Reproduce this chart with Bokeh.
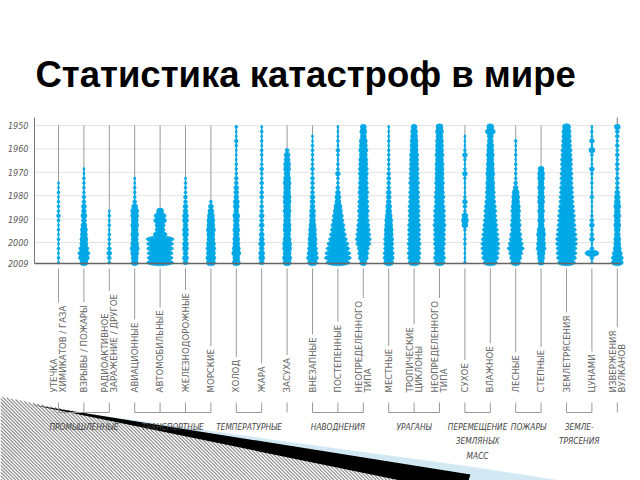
import numpy as np
from bokeh.plotting import figure
from bokeh.models import Range1d, Label
from bokeh.embed import file_html
from bokeh.resources import INLINE

# ---------------- data ----------------
title_text = "Статистика катастроф в мире"
years = list(range(1950, 2009, 2))          # sampled years (1950 ... 2008)
year_ticks = [1950, 1960, 1970, 1980, 1990, 2000, 2009]
grid_years = [1950, 1960, 1970, 1980, 1990, 2000]

cat_labels = [
    "УТЕЧКА\nХИМИКАТОВ / ГАЗА",
    "ВЗРЫВЫ / ПОЖАРЫ",
    "РАДИОАКТИВНОЕ\nЗАРАЖЕНИЕ / ДРУГОЕ",
    "АВИАЦИОННЫЕ",
    "АВТОМОБИЛЬНЫЕ",
    "ЖЕЛЕЗНОДОРОЖНЫЕ",
    "МОРСКИЕ",
    "ХОЛОД",
    "ЖАРА",
    "ЗАСУХА",
    "ВНЕЗАПНЫЕ",
    "ПОСТЕПЕННЫЕ",
    "НЕОПРЕДЕЛЕННОГО\nТИПА",
    "МЕСТНЫЕ",
    "ТРОПИЧЕСКИЕ\nЦИКЛОНЫ",
    "НЕОПРЕДЕЛЕННОГО\nТИПА",
    "СУХОЕ",
    "ВЛАЖНОЕ",
    "ЛЕСНЫЕ",
    "СТЕПНЫЕ",
    "ЗЕМЛЕТРЯСЕНИЯ",
    "ЦУНАМИ",
    "ИЗВЕРЖЕНИЯ\nВУЛКАНОВ",
]

group_names = ["ПРОМЫШЛЕННЫЕ", "ТРАНСПОРТНЫЕ", "ТЕМПЕРАТУРНЫЕ", "", "НАВОДНЕНИЯ",
               "УРАГАНЫ", "ПЕРЕМЕЩЕНИЕ\nЗЕМЛЯНЫХ\nМАСС", "ПОЖАРЫ", "ЗЕМЛЕ-\nТРЯСЕНИЯ", ""]
group_first = [0, 3, 7, 9, 10, 13, 16, 18, 20, 22]
group_last = [2, 6, 8, 9, 12, 15, 17, 19, 21, 22]

# intensity per sampled year (1950, 1952, ..., 2008)
leak = [0]*12 + [2, 2, 3, 2, 3, 3, 3, 4, 3, 2, 3, 2, 3, 2, 3, 2, 3, 2]
explosions = [0]*9 + [2, 2, 3, 3, 3, 3, 4, 4, 5, 5, 6, 5, 6, 7, 7, 8, 8, 10, 12, 11, 8]
radioactive = [0]*18 + [2, 3, 2, 3, 2, 3, 3, 3, 4, 5, 4, 3]
aviation = [0]*11 + [2, 2, 3, 3, 3, 4, 6, 8, 8, 7, 8, 7, 8, 7, 8, 9, 8, 7, 7]
road = [0]*18 + [7, 12, 13, 10, 10, 14, 28, 27, 27, 26, 26, 27]
rail = [0]*11 + [2, 3, 3, 3, 4, 4, 5, 5, 6, 6, 5, 6, 6, 5, 6, 6, 5, 6, 5]
marine = [0]*16 + [3, 5, 6, 7, 8, 8, 9, 8, 8, 9, 10, 9, 10, 9]
cold = [3, 2, 2, 4, 3, 2, 2, 2, 3, 3, 3, 4, 4, 5, 5, 5, 6, 6, 5, 7, 6, 6, 7, 6, 7, 7, 8, 9, 7, 8]
heat = [2, 3, 2, 3, 2, 3, 3, 2, 3, 4, 3, 3, 4, 3, 4, 4, 3, 4, 4, 5, 4, 5, 4, 5, 5, 6, 5, 6, 6, 5]
drought = [0]*5 + [4, 6, 6, 7, 7, 6, 7, 8, 7, 7, 8, 8, 7, 8, 7, 7, 8, 8, 7, 8, 9, 9, 8, 9, 8]
flash_flood = [0, 0, 2, 2, 3, 3, 3, 3, 3, 4, 3, 4, 4, 4, 4, 5, 5, 5, 6, 6, 6, 7, 8, 8, 9, 9, 10, 11, 12, 10]
slow_flood = [2, 2, 2, 3, 2, 4, 3, 2, 3, 3, 5, 3, 3, 4, 5, 6, 6, 8, 9, 11, 12, 14, 15, 17, 19, 22, 24, 26, 27, 24]
other_flood = [6, 7, 6, 8, 8, 9, 8, 9, 9, 10, 10, 9, 10, 10, 11, 10, 11, 11, 12, 11, 12, 13, 14, 15, 16, 15, 12, 11, 10, 7]
local_storm = [2, 2, 2, 3, 2, 3, 3, 3, 3, 3, 4, 4, 4, 4, 5, 5, 5, 6, 6, 7, 8, 8, 9, 9, 10, 10, 10, 11, 11, 10]
cyclones = [6, 7, 7, 8, 8, 8, 9, 9, 9, 10, 10, 10, 11, 10, 11, 11, 11, 12, 12, 12, 12, 13, 13, 13, 13, 14, 13, 14, 13, 12]
other_storm = [7, 8, 7, 8, 8, 8, 9, 8, 9, 9, 9, 9, 10, 9, 10, 11, 10, 11, 12, 12, 12, 13, 12, 12, 12, 12, 11, 11, 12, 11]
dry_mass = [0, 0, 2, 2, 2, 3, 5, 3, 2, 3, 5, 3, 2, 2, 2, 3, 5, 4, 3, 6, 7, 6, 3, 2, 3, 3, 2, 2, 2, 3]
wet_mass = [7, 10, 6, 6, 7, 7, 8, 7, 8, 8, 9, 8, 9, 9, 10, 10, 11, 12, 13, 13, 14, 15, 16, 17, 18, 19, 19, 18, 17, 14]
forest_fire = [0, 0, 0, 3, 2, 2, 3, 2, 3, 3, 3, 3, 4, 5, 7, 8, 8, 9, 10, 9, 10, 11, 10, 12, 13, 15, 17, 14, 12, 10]
steppe_fire = [0]*9 + [6, 7, 7, 6, 7, 6, 7, 7, 6, 7, 6, 7, 6, 8, 9, 8, 9, 10, 8, 7, 6]
earthquakes = [8, 9, 9, 10, 10, 11, 11, 12, 12, 12, 13, 13, 13, 14, 14, 15, 15, 16, 17, 18, 18, 19, 20, 21, 22, 22, 21, 21, 20, 18]
tsunami = [2, 3, 2, 5, 2, 6, 3, 2, 2, 5, 3, 2, 3, 2, 2, 4, 2, 2, 2, 3, 4, 5, 3, 4, 5, 2, 4, 14, 4, 2]
volcanoes = [6, 4, 4, 3, 4, 3, 4, 3, 4, 4, 3, 4, 4, 4, 5, 6, 6, 7, 6, 7, 6, 7, 6, 6, 7, 7, 8, 10, 12, 12]

series = [leak, explosions, radioactive, aviation, road, rail, marine, cold, heat,
          drought, flash_flood, slow_flood, other_flood, local_storm, cyclones,
          other_storm, dry_mass, wet_mass, forest_fire, steppe_fire, earthquakes,
          tsunami, volcanoes]

# ---------------- layout helpers (pixel -> data) ----------------
X0, DX = 58.0, 25.4            # px of first category, px per category
Y0, DY = 125.0, 138.0 / 59.0   # px of 1950, px per year


def X(px):
    return (px - X0) / DX


def Y(py):
    return 1950 + (py - Y0) / DY


BLUE = "#00A8E6"
GREY = "#9a9a9a"
TXT = "#5a5a5a"
FONT = "DejaVu Sans Condensed, Roboto"
FONT_CAT = "DejaVu Sans"

p = figure(width=640, height=480, x_range=Range1d(X(0), X(640)),
           y_range=Range1d(Y(480), Y(0)), min_border=0, toolbar_location=None,
           output_backend="svg", x_axis_type=None, y_axis_type=None, title=None)
p.grid.visible = False
p.outline_line_color = None
p.background_fill_color = "white"

n = len(cat_labels)

# ---------------- decoration at bottom-left (slide template) ----------------
# light blue swoosh
p.patch([X(80), X(300), X(470), X(560), X(430)], [Y(412), Y(443), Y(466), Y(480), Y(480)],
        fill_color="#bfe0ef", fill_alpha=0.7, line_color=None)
# diagonal hatching below the swoosh: lines y = x + c clipped to the triangle
hx0, hy0, hx1, hy1 = [], [], [], []
for c in np.arange(62, 484, 3.5):
    xs_ = max((396 - c) / 0.8, 0.0)
    xe_ = 480 - c
    if xe_ > xs_:
        hx0.append(X(xs_)); hy0.append(Y(xs_ + c))
        hx1.append(X(xe_)); hy1.append(Y(480))
p.segment(x0=hx0, y0=hy0, x1=hx1, y1=hy1, line_color="#8c8c8c", line_width=1.1)
# black swoosh
p.patch([X(30), X(470), X(468), X(400)], [Y(404), Y(474), Y(480), Y(480)],
        fill_color="black", line_color=None)

# ---------------- grid and axes ----------------
p.segment(x0=[X(34)] * len(grid_years), x1=[X(620)] * len(grid_years),
          y0=grid_years, y1=grid_years, line_color="#c8c8c8", line_width=1,
          line_dash="1 1")
p.segment(x0=list(range(n)), x1=list(range(n)), y0=[1950] * n, y1=[2009] * n,
          line_color=GREY, line_width=1)
p.segment(x0=[X(34), n - 1], x1=[X(34), n - 1], y0=[Y(117), Y(117)], y1=[2009, 2009],
          line_color="#777777", line_width=1)

# ---------------- beads ----------------
for i, vals in enumerate(series):
    xs, ys, ws, hs = [], [], [], []
    first = None
    for yr, v in zip(years, vals):
        if v <= 0:
            continue
        if first is None:
            first = yr
        xs.append(i)
        ys.append(yr + 0.6)
        ws.append(v / DX)
        hs.append(min(max(v * 0.9, 2.6), 6.5) / DY)
    if first is not None:
        p.segment(x0=[i], x1=[i], y0=[first], y1=[2009], line_color=BLUE, line_width=1.3)
        p.ellipse(x=xs, y=ys, width=ws, height=hs, fill_color=BLUE, line_color=BLUE,
                  line_width=0.6)

p.segment(x0=[X(34)], x1=[X(620)], y0=[2009], y1=[2009], line_color="#666666", line_width=1.6)

# year labels
for yr in year_ticks:
    p.add_layout(Label(x=X(28), y=yr, text=str(yr), text_align="right",
                       text_baseline="middle", text_font_size="9px",
                       text_font_style="italic", text_color=TXT, text_font=FONT))

# ---------------- category labels ----------------
p.segment(x0=list(range(n)), x1=list(range(n)), y0=[Y(268)] * n, y1=[Y(393)] * n,
          line_color=GREY, line_width=1)
for i, lab in enumerate(cat_labels):
    p.add_layout(Label(x=i, y=Y(395), text=lab, angle=np.pi / 2, text_align="left",
                       text_baseline="middle", text_font_size="8.6px", text_color="#666666",
                       text_font=FONT_CAT, text_line_height=0.9,
                       background_fill_color="white", padding=3))

# brackets
p.segment(x0=list(range(n)), x1=list(range(n)), y0=[Y(402)] * n, y1=[Y(412)] * n,
          line_color=GREY, line_width=1)
p.segment(x0=group_first, x1=group_last, y0=[Y(412)] * len(group_first),
          y1=[Y(412)] * len(group_first), line_color=GREY, line_width=1)

for name, a, b in zip(group_names, group_first, group_last):
    if not name:
        continue
    p.add_layout(Label(x=(a + b) / 2, y=Y(421), text=name, text_align="center",
                       text_baseline="top", text_font_size="8.3px",
                       text_font_style="italic", text_color="#444444", text_font=FONT,
                       text_line_height=1.45))

# title
p.add_layout(Label(x=X(35), y=Y(74), text=title_text, text_align="left",
                   text_baseline="alphabetic", text_font_size="36.5px",
                   text_font_style="bold", text_color="black",
                   text_font="Liberation Sans"))

open("out.html", "w").write(file_html(p, INLINE))
